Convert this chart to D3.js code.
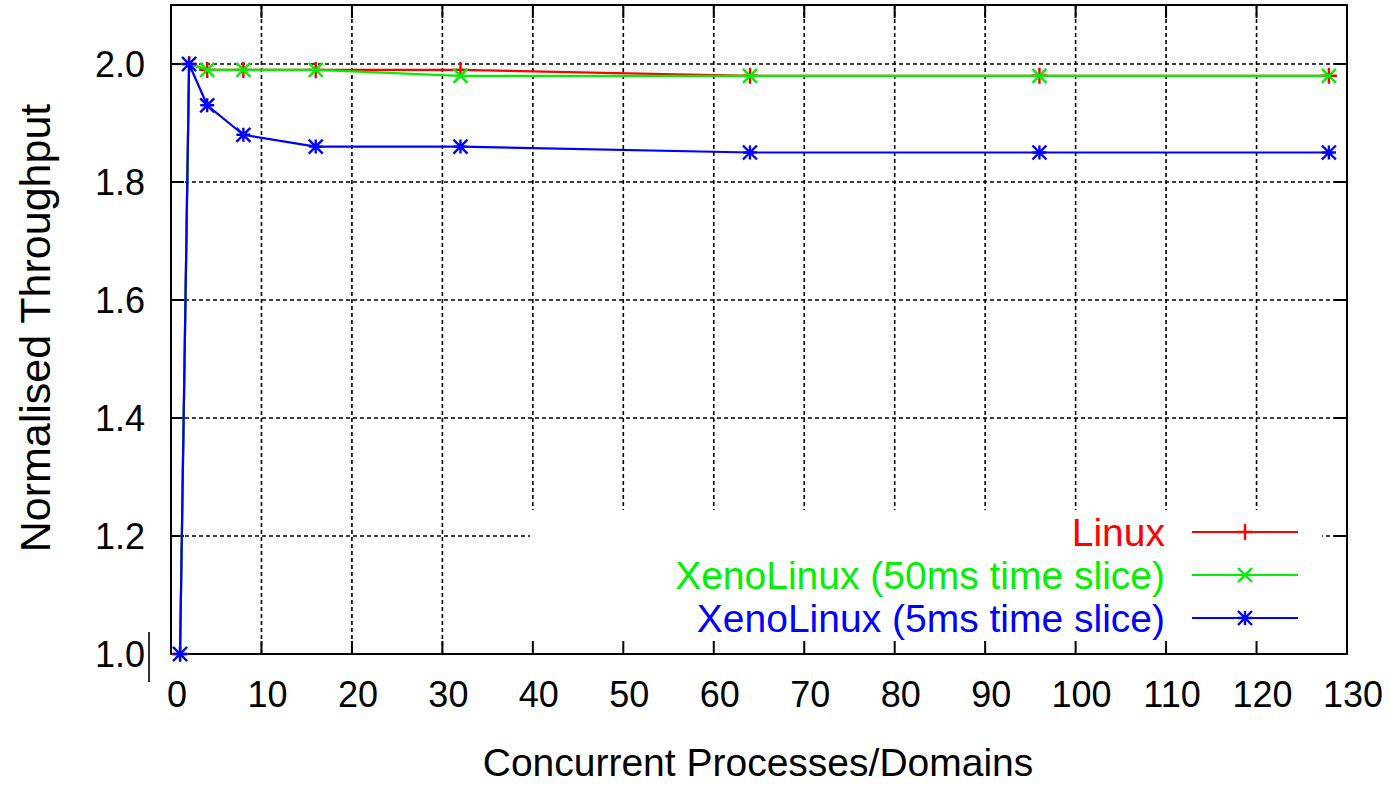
<!DOCTYPE html>
<html lang="en">
  <head>
    <meta charset="utf-8">
    <script src="https://d3js.org/d3.v7.min.js"></script>
    <title>Normalised Throughput</title>
    <style>
      body { margin: 0; background: #fff; }
      text { font-family: "Liberation Sans", Arial, sans-serif; }
    </style>
  </head>
  <body>
    <div id="chart"></div>
    <script type="text/javascript">
      // data
      var procs = [1, 2, 4, 8, 16, 32, 64, 96, 128];
      var linux = [1.0, 2.0, 1.99, 1.99, 1.99, 1.99, 1.98, 1.98, 1.98];
      var xeno50 = [1.0, 2.0, 1.99, 1.99, 1.99, 1.98, 1.98, 1.98, 1.98];
      var xeno5 = [1.0, 2.0, 1.93, 1.88, 1.86, 1.86, 1.85, 1.85, 1.85];
      var seriesNames = ["Linux", "XenoLinux (50ms time slice)", "XenoLinux (5ms time slice)"];
      var xTicks = [0, 10, 20, 30, 40, 50, 60, 70, 80, 90, 100, 110, 120, 130];
      var yTicks = [1.0, 1.2, 1.4, 1.6, 1.8, 2.0];

      var width = 1389, height = 786;
      var pLeft = 171, pRight = 1347, pTop = 5, pBottom = 654;

      var svg = d3.select("#chart").append("svg")
          .attr("width", width)
          .attr("height", height);

      var x = d3.scaleLinear().domain([0, 130]).range([pLeft, pRight]);
      var y = d3.scaleLinear().domain([1.0, 2.1]).range([pBottom, pTop]);

      // dotted grid
      var grid = svg.append("g")
          .attr("stroke", "#000")
          .attr("stroke-width", 1.6)
          .attr("stroke-dasharray", "4,3");
      grid.selectAll("line.v")
          .data(xTicks.slice(1, -1))
          .enter().append("line")
          .attr("x1", d => x(d)).attr("x2", d => x(d))
          .attr("y1", pTop).attr("y2", pBottom);
      grid.selectAll("line.h")
          .data(yTicks.slice(1))
          .enter().append("line")
          .attr("x1", pLeft).attr("x2", pRight)
          .attr("y1", d => y(d)).attr("y2", d => y(d));

      // key box blanks the grid behind it
      svg.append("rect")
          .attr("x", 530).attr("y", 510)
          .attr("width", 792).attr("height", pBottom - 510)
          .attr("fill", "#fff");

      // border
      svg.append("rect")
          .attr("x", pLeft).attr("y", pTop)
          .attr("width", pRight - pLeft).attr("height", pBottom - pTop)
          .attr("fill", "none")
          .attr("stroke", "#000")
          .attr("stroke-width", 2);

      // inward ticks, mirrored on top and right
      var tl = 13;
      var ticks = svg.append("g").attr("stroke", "#000").attr("stroke-width", 2);
      xTicks.forEach(function (t) {
        ticks.append("line").attr("x1", x(t)).attr("x2", x(t)).attr("y1", pBottom).attr("y2", pBottom - tl);
        ticks.append("line").attr("x1", x(t)).attr("x2", x(t)).attr("y1", pTop).attr("y2", pTop + tl);
      });
      yTicks.forEach(function (t) {
        ticks.append("line").attr("x1", pLeft).attr("x2", pLeft + tl).attr("y1", y(t)).attr("y2", y(t));
        ticks.append("line").attr("x1", pRight).attr("x2", pRight - tl).attr("y1", y(t)).attr("y2", y(t));
      });

      // tick labels
      svg.selectAll("text.xt")
          .data(xTicks)
          .enter().append("text")
          .attr("x", d => x(d) + 6)
          .attr("y", 707)
          .attr("text-anchor", "middle")
          .style("font-size", "36px")
          .text(d => d);
      svg.selectAll("text.yt")
          .data(yTicks)
          .enter().append("text")
          .attr("x", 145)
          .attr("y", d => y(d))
          .attr("dy", "0.36em")
          .attr("text-anchor", "end")
          .style("font-size", "36px")
          .text(d => d3.format(".1f")(d));

      // stray bar next to the 1.0 label
      svg.append("line")
          .attr("x1", 149).attr("x2", 149)
          .attr("y1", 632).attr("y2", 682)
          .attr("stroke", "#333").attr("stroke-width", 2);

      // axis titles
      svg.append("text")
          .attr("x", 758).attr("y", 776)
          .attr("text-anchor", "middle")
          .style("font-size", "39px")
          .text("Concurrent Processes/Domains");
      svg.append("text")
          .attr("transform", "translate(50,328) rotate(-90)")
          .attr("text-anchor", "middle")
          .style("font-size", "43px")
          .text("Normalised Throughput");

      // point markers
      function marker(g, kind, cx, cy, color) {
        var s = kind == "plus" ? 8 : 7;
        var p = "";
        if (kind == "plus" || kind == "star")
          p += "M" + (cx - s) + "," + cy + "H" + (cx + s) + "M" + cx + "," + (cy - s) + "V" + (cy + s);
        if (kind == "cross" || kind == "star")
          p += "M" + (cx - s) + "," + (cy - s) + "L" + (cx + s) + "," + (cy + s) +
               "M" + (cx - s) + "," + (cy + s) + "L" + (cx + s) + "," + (cy - s);
        g.append("path").attr("d", p).attr("stroke", color).attr("stroke-width", 2.4).attr("fill", "none");
      }

      var series = [
        { name: seriesNames[0], values: linux, color: "#ff0000", kind: "plus" },
        { name: seriesNames[1], values: xeno50, color: "#00f000", kind: "cross" },
        { name: seriesNames[2], values: xeno5, color: "#0000ff", kind: "star" }
      ];

      var line = d3.line()
          .x(d => x(d[0]))
          .y(d => y(d[1]));

      series.forEach(function (s) {
        var pts = procs.map((p, i) => [p, s.values[i]]);
        var g = svg.append("g");
        g.append("path")
            .attr("d", line(pts))
            .attr("fill", "none")
            .attr("stroke", s.color)
            .attr("stroke-width", 2.2);
        pts.forEach(function (p) { marker(g, s.kind, x(p[0]), y(p[1]), s.color); });
      });

      // key
      var keyY = [532, 575, 618];
      series.forEach(function (s, i) {
        var g = svg.append("g");
        g.append("text")
            .attr("x", 1165).attr("y", keyY[i])
            .attr("dy", "0.36em")
            .attr("text-anchor", "end")
            .attr("fill", s.color)
            .style("font-size", "39px")
            .text(s.name);
        g.append("line")
            .attr("x1", 1192).attr("x2", 1298)
            .attr("y1", keyY[i]).attr("y2", keyY[i])
            .attr("stroke", s.color).attr("stroke-width", 2.2);
        marker(g, s.kind, 1245, keyY[i], s.color);
      });
    </script>
  </body>
</html>
